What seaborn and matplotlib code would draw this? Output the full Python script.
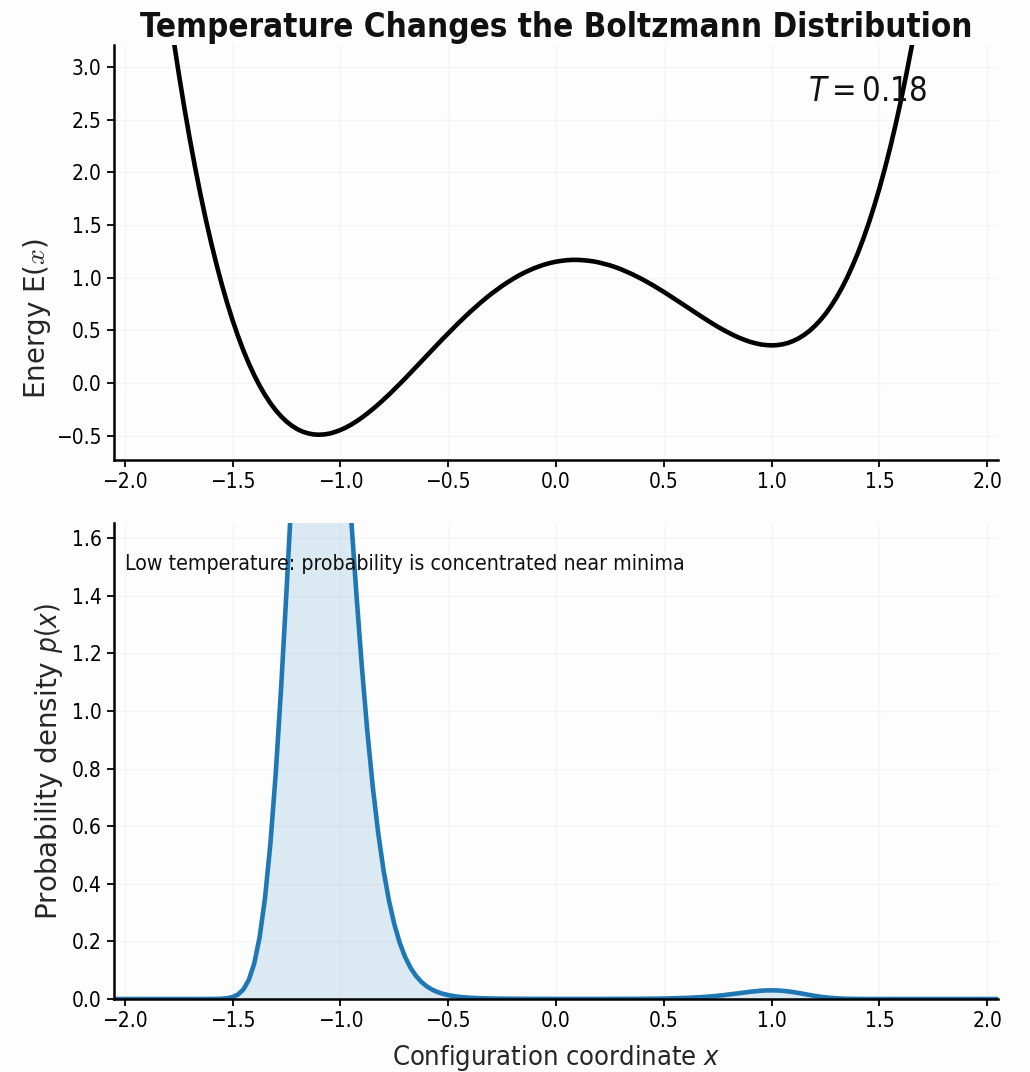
import numpy as np
import pandas as pd
import matplotlib
matplotlib.use("Agg")
import matplotlib.pyplot as plt
import seaborn as sns

# ---------------- data ----------------
# energy landscape E(x), sampled every 0.025 from x = -1.8 to x = 1.7
energy = [3.628, 3.275, 2.942, 2.628, 2.334, 2.059, 1.801, 1.560, 1.337, 1.129,
          0.936, 0.759, 0.596, 0.446, 0.310, 0.187, 0.076, -0.024, -0.112, -0.190,
          -0.258, -0.316, -0.365, -0.405, -0.437, -0.461, -0.477, -0.487, -0.490, -0.487,
          -0.479, -0.464, -0.445, -0.422, -0.394, -0.362, -0.327, -0.288, -0.247, -0.203,
          -0.157, -0.109, -0.059, -0.008, 0.044, 0.098, 0.151, 0.205, 0.260, 0.314,
          0.368, 0.421, 0.473, 0.525, 0.576, 0.625, 0.673, 0.719, 0.764, 0.807,
          0.848, 0.886, 0.923, 0.957, 0.989, 1.019, 1.046, 1.070, 1.092, 1.111,
          1.128, 1.142, 1.153, 1.161, 1.167, 1.170, 1.170, 1.167, 1.162, 1.155,
          1.145, 1.132, 1.118, 1.101, 1.082, 1.060, 1.037, 1.012, 0.986, 0.957,
          0.928, 0.897, 0.866, 0.833, 0.800, 0.766, 0.732, 0.698, 0.664, 0.631,
          0.598, 0.566, 0.535, 0.506, 0.479, 0.453, 0.430, 0.410, 0.392, 0.378,
          0.367, 0.361, 0.358, 0.361, 0.368, 0.381, 0.400, 0.425, 0.457, 0.495,
          0.542, 0.596, 0.658, 0.730, 0.811, 0.901, 1.002, 1.114, 1.236, 1.371,
          1.518, 1.678, 1.851, 2.038, 2.239, 2.456, 2.688, 2.937, 3.202, 3.484,
          3.785]
x_energy = [round(-1.8 + 0.025 * i, 3) for i in range(len(energy))]

# Boltzmann density p(x) at T = 0.18 (finer sampling where it changes quickly)
x_density = ([round(-2.05 + 0.05 * i, 3) for i in range(10)]
             + [round(-1.575 + 0.025 * i, 3) for i in range(48)]
             + [round(-0.35 + 0.05 * i, 3) for i in range(19)]
             + [round(0.575 + 0.025 * i, 3) for i in range(35)]
             + [round(1.45 + 0.05 * i, 3) for i in range(13)])
density = ([0.0, 0.0, 0.0, 0.0, 0.0, 0.0, 0.0, 0.0, 0.0, 0.0001]
           + [0.0004, 0.0010, 0.0028, 0.0068, 0.0156, 0.0333, 0.0661, 0.1226, 0.2133, 0.3487,
              0.5373, 0.7826, 1.0804, 1.4173, 1.7712, 2.1141, 2.4161, 2.6501, 2.7965, 2.8457,
              2.7986, 2.6660, 2.4654, 2.2178, 1.9448, 1.6658, 1.3964, 1.1478, 0.9269, 0.7366,
              0.5771, 0.4465, 0.3418, 0.2592, 0.1951, 0.1459, 0.1086, 0.0806, 0.0597, 0.0441,
              0.0327, 0.0242, 0.0180, 0.0135, 0.0101, 0.0076, 0.0058, 0.0044]
           + [0.0027, 0.0017, 0.0011, 0.0008, 0.0006, 0.0004, 0.0004, 0.0003, 0.0003, 0.0003,
              0.0003, 0.0003, 0.0004, 0.0005, 0.0006, 0.0008, 0.0011, 0.0015, 0.0026]
           + [0.0032, 0.0038, 0.0046, 0.0055, 0.0066, 0.0079, 0.0094, 0.0112, 0.0132, 0.0155,
              0.0178, 0.0202, 0.0227, 0.0249, 0.0270, 0.0287, 0.0297, 0.0301, 0.0296, 0.0284,
              0.0266, 0.0238, 0.0208, 0.0175, 0.0140, 0.0109, 0.0080, 0.0057, 0.0038, 0.0025,
              0.0015, 0.0008, 0.0005, 0.0002, 0.0001]
           + [0.0] * 13)
assert len(x_density) == len(density)

x_ticks = [-2.0, -1.5, -1.0, -0.5, 0.0, 0.5, 1.0, 1.5, 2.0]
energy_ticks = [-0.5, 0.0, 0.5, 1.0, 1.5, 2.0, 2.5, 3.0]
density_ticks = [0.0, 0.2, 0.4, 0.6, 0.8, 1.0, 1.2, 1.4, 1.6]
temperature = 0.18

title_text = "Temperature Changes the Boltzmann Distribution"
note_text = "Low temperature: probability is concentrated near minima"

df_e = pd.DataFrame({"x": x_energy, "E": energy})
df_p = pd.DataFrame({"x": x_density, "p": density})

# ---------------- style ----------------
sns.set_style("ticks")
plt.rcParams["font.family"] = ["DejaVu Sans"]
plt.rcParams["font.stretch"] = "condensed"
plt.rcParams["mathtext.fontset"] = "dejavusans"
plt.rcParams["axes.unicode_minus"] = True
plt.rcParams["axes.edgecolor"] = "black"
plt.rcParams["xtick.color"] = "black"
plt.rcParams["ytick.color"] = "black"
plt.rcParams["text.color"] = "#111111"

fig = plt.figure(figsize=(10.3, 10.72), dpi=100)
fig.patch.set_facecolor("#fdfdfd")
ax1 = fig.add_axes([0.1107, 0.5709, 0.8583, 0.3871])
ax2 = fig.add_axes([0.1107, 0.0681, 0.8583, 0.4440])

blue = "#1f77b4"

for ax in (ax1, ax2):
    ax.set_facecolor("#fdfdfd")
    ax.grid(True, color="#b8b8b8", alpha=0.10, linewidth=1.0)
    for side in ("left", "bottom"):
        ax.spines[side].set_linewidth(1.8)
    ax.tick_params(axis="both", length=5, width=1.3, labelsize=15, pad=4)

sns.despine(fig=fig)

# top: energy landscape
sns.lineplot(data=df_e, x="x", y="E", ax=ax1, color="black", linewidth=3.3, sort=True)
ax1.set_xlim(-2.05, 2.05)
ax1.set_ylim(-0.73, 3.21)
ax1.set_xticks(x_ticks)
ax1.set_yticks(energy_ticks)
ax1.set_xlabel("")
ax1.set_ylabel(r"Energy E($x$)", fontsize=20, fontstretch="normal",
               math_fontfamily="cm", labelpad=2, y=0.342)
ax1.set_title(title_text, fontsize=23.8, fontweight="bold", pad=6)
ax1.text(0.853, 0.887, r"$T = %.2f$" % temperature, transform=ax1.transAxes,
         fontsize=23.5, ha="center", va="center")

# bottom: Boltzmann density
ax2.fill_between(df_p["x"], 0, df_p["p"], color=blue, alpha=0.15, linewidth=0, zorder=1)
sns.lineplot(data=df_p, x="x", y="p", ax=ax2, color=blue, linewidth=3.3, sort=True)
ax2.set_xlim(-2.05, 2.05)
ax2.set_ylim(0, 1.652)
ax2.set_xticks(x_ticks)
ax2.set_yticks(density_ticks)
ax2.set_xlabel(r"Configuration coordinate $x$", fontsize=19.5, labelpad=8)
ax2.set_ylabel(r"Probability density $p(x)$", fontsize=20, fontstretch="normal",
               labelpad=4.5)
ax2.text(0.012, 0.935, note_text, transform=ax2.transAxes, fontsize=15.3,
         ha="left", va="top")

for ax in (ax1, ax2):
    for lab in ax.get_xticklabels() + ax.get_yticklabels():
        lab.set_fontstretch("condensed")

fig.savefig("out.png", dpi=100, facecolor=fig.get_facecolor())
